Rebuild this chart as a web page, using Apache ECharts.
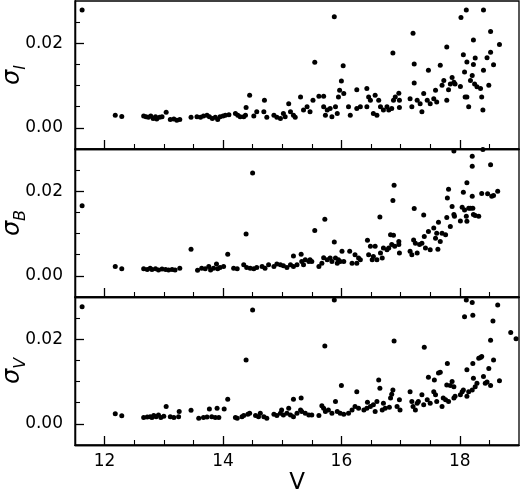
<!DOCTYPE html>
<html lang="en">
<head>
    <meta charset="UTF-8">
    <title>sigma vs V</title>
    <script src="https://cdn.jsdelivr.net/npm/echarts@6/dist/echarts.min.js"></script>
    <style>
        html, body { margin: 0; padding: 0; background: #fff; }
        #chart { width: 520px; height: 495px; }
    </style>
</head>
<body>
<div id="chart"></div>
<script type="text/javascript">
    // [V, sigma]
    var pointsI = [
        [11.62, 0.0279], [12.18, 0.0030], [12.29, 0.0027], [12.66, 0.0028], [12.70, 0.0026], [12.74, 0.0025],
        [12.78, 0.0028], [12.82, 0.0022], [12.86, 0.0026], [12.88, 0.0021], [12.93, 0.0025], [12.97, 0.0026],
        [13.04, 0.0037], [13.11, 0.0020], [13.17, 0.0021], [13.22, 0.0018], [13.27, 0.0020], [13.46, 0.0025],
        [13.56, 0.0026], [13.62, 0.0025], [13.67, 0.0028], [13.73, 0.0030], [13.77, 0.0026], [13.82, 0.0022],
        [13.87, 0.0025], [13.91, 0.0020], [13.95, 0.0026], [14.00, 0.0028], [14.04, 0.0030], [14.10, 0.0031],
        [14.21, 0.0034], [14.25, 0.0030], [14.29, 0.0026], [14.35, 0.0026], [14.38, 0.0030], [14.39, 0.0048],
        [14.45, 0.0077], [14.52, 0.0028], [14.57, 0.0038],
        [14.70, 0.0065], [14.69, 0.0038], [14.74, 0.0025], [14.86, 0.0030], [14.91, 0.0025], [14.97, 0.0022],
        [15.02, 0.0034], [15.05, 0.0026], [15.11, 0.0057], [15.14, 0.0038], [15.19, 0.0030], [15.22, 0.0025],
        [15.31, 0.0073], [15.36, 0.0042], [15.42, 0.0050], [15.47, 0.0038], [15.52, 0.0065], [15.55, 0.0155],
        [15.62, 0.0075], [15.70, 0.0075], [15.70, 0.0050], [15.73, 0.0030], [15.76, 0.0042], [15.81, 0.0046],
        [15.84, 0.0026], [15.88, 0.0263], [15.90, 0.0050], [15.93, 0.0034], [15.95, 0.0073], [15.97, 0.0089],
        [16.00, 0.0111], [16.03, 0.0147], [16.04, 0.0081], [16.12, 0.0050], [16.15, 0.0030], [16.26, 0.0046],
        [16.26, 0.0090], [16.32, 0.0050], [16.43, 0.0093], [16.43, 0.0050], [16.46, 0.0073], [16.49, 0.0065],
        [16.54, 0.0034], [16.57, 0.0077], [16.60, 0.0030], [16.63, 0.0065], [16.66, 0.0050], [16.71, 0.0042],
        [16.77, 0.0050], [16.80, 0.0042], [16.85, 0.0046], [16.87, 0.0177], [16.88, 0.0065], [16.91, 0.0073],
        [16.97, 0.0082], [16.98, 0.0065], [16.98, 0.0048], [17.16, 0.0069], [17.19, 0.0050], [17.21, 0.0224],
        [17.23, 0.0151], [17.23, 0.0106], [17.28, 0.0065], [17.33, 0.0057], [17.36, 0.0038], [17.39, 0.0081],
        [17.45, 0.0065], [17.47, 0.0136], [17.50, 0.0057], [17.56, 0.0069], [17.59, 0.0089], [17.61, 0.0061],
        [17.67, 0.0148], [17.70, 0.0101], [17.73, 0.0112], [17.78, 0.0191], [17.78, 0.0065], [17.81, 0.0090],
        [17.84, 0.0104], [17.87, 0.0119], [17.90, 0.0108], [17.92, 0.0104], [18.01, 0.0098], [18.02, 0.0261],
        [18.11, 0.0279], [18.06, 0.0173], [18.08, 0.0132], [18.12, 0.0156], [18.15, 0.0050], [18.09, 0.0073],
        [18.12, 0.0073], [18.18, 0.0112], [18.21, 0.0124], [18.23, 0.0208], [18.23, 0.0150], [18.26, 0.0165],
        [18.25, 0.0104], [18.29, 0.0097], [18.35, 0.0093], [18.37, 0.0073], [18.39, 0.0042], [18.40, 0.0279],
        [18.40, 0.0136], [18.46, 0.0166], [18.49, 0.0101], [18.52, 0.0228], [18.52, 0.0179], [18.57, 0.0149],
        [18.67, 0.0197]
    ];

    var pointsB = [
        [11.62, 0.0166], [12.18, 0.0022], [12.29, 0.0017], [12.66, 0.0017], [12.72, 0.0015], [12.77, 0.0018],
        [12.80, 0.0015], [12.86, 0.0017], [12.91, 0.0014], [12.97, 0.0016], [13.03, 0.0015], [13.08, 0.0014],
        [13.14, 0.0015], [13.19, 0.0014], [13.27, 0.0018], [13.46, 0.0063], [13.57, 0.0013], [13.64, 0.0018],
        [13.70, 0.0017], [13.76, 0.0022], [13.79, 0.0014], [13.84, 0.0018], [13.89, 0.0028], [13.91, 0.0017],
        [13.95, 0.0020], [14.01, 0.0022], [14.08, 0.0051], [14.18, 0.0018], [14.24, 0.0017], [14.35, 0.0026],
        [14.39, 0.0099], [14.40, 0.0020], [14.46, 0.0018], [14.50, 0.0243], [14.52, 0.0017], [14.57, 0.0020],
        [14.66, 0.0022], [14.71, 0.0018], [14.77, 0.0026], [14.86, 0.0022], [14.91, 0.0028], [14.97, 0.0026],
        [15.02, 0.0024], [15.08, 0.0020], [15.14, 0.0026], [15.19, 0.0022], [15.19, 0.0047], [15.25, 0.0026],
        [15.32, 0.0051], [15.33, 0.0034], [15.36, 0.0026], [15.39, 0.0038], [15.45, 0.0034], [15.47, 0.0038],
        [15.50, 0.0034], [15.55, 0.0107], [15.62, 0.0022], [15.67, 0.0030], [15.70, 0.0043], [15.72, 0.0134],
        [15.76, 0.0038], [15.81, 0.0042], [15.84, 0.0034], [15.88, 0.0080], [15.90, 0.0042], [15.93, 0.0030],
        [15.95, 0.0038], [15.98, 0.0034], [16.01, 0.0058], [16.04, 0.0034], [16.14, 0.0058], [16.18, 0.0030],
        [16.23, 0.0050], [16.26, 0.0030], [16.29, 0.0042], [16.32, 0.0038], [16.44, 0.0084], [16.46, 0.0050],
        [16.49, 0.0070], [16.52, 0.0038], [16.54, 0.0046], [16.57, 0.0070], [16.60, 0.0038], [16.65, 0.0139],
        [16.66, 0.0054], [16.69, 0.0042], [16.71, 0.0066], [16.77, 0.0062], [16.80, 0.0066], [16.83, 0.0097],
        [16.85, 0.0074], [16.87, 0.0178], [16.88, 0.0096], [16.89, 0.0214], [16.90, 0.0070], [16.97, 0.0081],
        [16.97, 0.0074], [16.98, 0.0054], [17.16, 0.0058], [17.19, 0.0050], [17.22, 0.0085], [17.23, 0.0159],
        [17.25, 0.0077], [17.28, 0.0054], [17.32, 0.0074], [17.36, 0.0077], [17.39, 0.0144], [17.40, 0.0093],
        [17.42, 0.0066], [17.47, 0.0105], [17.50, 0.0062], [17.56, 0.0113], [17.59, 0.0089], [17.61, 0.0101],
        [17.63, 0.0063], [17.64, 0.0127], [17.67, 0.0081], [17.70, 0.0101], [17.76, 0.0097], [17.78, 0.0138],
        [17.79, 0.0184], [17.81, 0.0205], [17.84, 0.0117], [17.87, 0.0164], [17.90, 0.0145], [17.91, 0.0141],
        [18.01, 0.0130], [18.04, 0.0162], [18.06, 0.0198], [18.08, 0.0156], [18.11, 0.0141], [18.12, 0.0220],
        [18.12, 0.0129], [18.15, 0.0160], [18.18, 0.0160], [18.21, 0.0188], [18.22, 0.0160], [18.23, 0.0145],
        [18.26, 0.0143], [18.32, 0.0141], [18.21, 0.0259], [18.21, 0.0283], [18.37, 0.0195], [18.47, 0.0194],
        [18.52, 0.0263], [18.54, 0.0188], [18.57, 0.0190], [18.64, 0.0200], [17.90, 0.0295], [18.39, 0.0299]
    ];

    var pointsV = [
        [11.62, 0.0277], [12.18, 0.0024], [12.29, 0.0019], [12.66, 0.0015], [12.72, 0.0016], [12.77, 0.0017],
        [12.80, 0.0015], [12.83, 0.0020], [12.87, 0.0017], [12.91, 0.0021], [12.95, 0.0015], [13.00, 0.0018],
        [13.04, 0.0041], [13.11, 0.0017], [13.17, 0.0015], [13.25, 0.0017], [13.26, 0.0029], [13.46, 0.0032],
        [13.59, 0.0013], [13.67, 0.0015], [13.73, 0.0016], [13.77, 0.0035], [13.81, 0.0017], [13.87, 0.0015],
        [13.90, 0.0037], [13.93, 0.0015], [14.02, 0.0035], [14.08, 0.0058], [14.21, 0.0015], [14.24, 0.0013],
        [14.32, 0.0017], [14.35, 0.0020], [14.39, 0.0151], [14.42, 0.0023], [14.45, 0.0025], [14.50, 0.0269],
        [14.55, 0.0020], [14.60, 0.0017],
        [14.63, 0.0025], [14.69, 0.0017], [14.74, 0.0013], [14.86, 0.0023], [14.91, 0.0020], [14.97, 0.0025],
        [14.99, 0.0033], [15.02, 0.0021], [15.08, 0.0025], [15.11, 0.0037], [15.14, 0.0021], [15.19, 0.0058],
        [15.19, 0.0017], [15.25, 0.0025], [15.31, 0.0033], [15.32, 0.0061], [15.33, 0.0029], [15.39, 0.0025],
        [15.45, 0.0021], [15.50, 0.0021], [15.62, 0.0020], [15.67, 0.0043], [15.70, 0.0037], [15.72, 0.0184],
        [15.73, 0.0029], [15.78, 0.0033], [15.84, 0.0025], [15.88, 0.0293], [15.90, 0.0053], [15.93, 0.0029],
        [15.98, 0.0025], [16.00, 0.0091], [16.04, 0.0023], [16.12, 0.0025], [16.18, 0.0033], [16.23, 0.0041],
        [16.26, 0.0076], [16.29, 0.0037], [16.38, 0.0033], [16.43, 0.0037], [16.44, 0.0051], [16.49, 0.0041],
        [16.54, 0.0045], [16.57, 0.0029], [16.60, 0.0053], [16.63, 0.0104], [16.65, 0.0084], [16.69, 0.0033],
        [16.71, 0.0049], [16.74, 0.0037], [16.81, 0.0039], [16.83, 0.0061], [16.85, 0.0070], [16.87, 0.0080],
        [16.89, 0.0196], [16.94, 0.0041], [16.98, 0.0057], [16.99, 0.0033], [17.16, 0.0076], [17.19, 0.0053],
        [17.21, 0.0041], [17.25, 0.0033], [17.28, 0.0049], [17.30, 0.0053], [17.36, 0.0069], [17.39, 0.0045],
        [17.40, 0.0181], [17.45, 0.0057], [17.47, 0.0110], [17.50, 0.0049], [17.56, 0.0076], [17.57, 0.0104],
        [17.59, 0.0069], [17.61, 0.0053], [17.64, 0.0120], [17.67, 0.0122], [17.70, 0.0041], [17.72, 0.0061],
        [17.76, 0.0057], [17.78, 0.0092], [17.79, 0.0143], [17.81, 0.0053], [17.84, 0.0091], [17.87, 0.0100],
        [17.90, 0.0061], [17.90, 0.0088], [17.92, 0.0065], [18.01, 0.0069], [18.04, 0.0076], [18.06, 0.0080],
        [18.08, 0.0253], [18.11, 0.0293], [18.12, 0.0128], [18.12, 0.0065], [18.15, 0.0076], [18.21, 0.0080],
        [18.21, 0.0287], [18.22, 0.0143], [18.22, 0.0257], [18.23, 0.0108], [18.26, 0.0088], [18.29, 0.0096],
        [18.32, 0.0155], [18.35, 0.0157], [18.37, 0.0159], [18.40, 0.0112], [18.43, 0.0096], [18.46, 0.0099],
        [18.49, 0.0131], [18.52, 0.0091], [18.52, 0.0198], [18.56, 0.0243], [18.57, 0.0151], [18.64, 0.0281],
        [18.67, 0.0102], [18.86, 0.0216], [18.95, 0.0201]
    ];

    var panelNames = ['I', 'B', 'V'];
    var xMajor = [12, 14, 16, 18];
    var xMinor = [12.5, 13, 13.5, 14.5, 15, 15.5, 16.5, 17, 17.5, 18.5];
    var yMajor = [0, 0.02];
    var yMinor = [0.005, 0.01, 0.015, 0.025];

    var chart = echarts.init(document.getElementById('chart'));
    var font = 'DejaVu Sans';
    var tops = [1, 149, 297];
    var allPoints = [pointsI, pointsB, pointsV];
    var black = { color: '#000', width: 1.3 };

    var grid = [], xAxis = [], yAxis = [], series = [];
    for (var i = 0; i < 3; i++) {
        grid.push({
            left: 75, right: 1, top: tops[i], height: 148, outerBoundsMode: 'none',
            show: true, borderColor: '#000', borderWidth: 1.3, backgroundColor: 'transparent'
        });
        var last = i === 2;
        // major x ticks (+ labels on the bottom panel)
        xAxis.push({
            gridIndex: i, type: 'value', min: 11.5, max: 19, position: 'bottom',
            axisLine: { show: true, onZero: false, lineStyle: black }, splitLine: { show: false },
            axisTick: { show: true, inside: true, length: 9, customValues: xMajor, lineStyle: { color: '#000', width: 1.3 } },
            axisLabel: {
                show: last, customValues: xMajor, margin: 8, color: '#000', fontSize: 17, fontFamily: font,
                formatter: function (v) { return String(v); }
            },
            name: last ? 'V' : '', nameLocation: 'middle', nameGap: 27, nameMoveOverlap: false,
            nameTextStyle: { color: '#000', fontSize: 23, fontFamily: font }
        });
        // minor x ticks
        xAxis.push({
            gridIndex: i, type: 'value', min: 11.5, max: 19, position: 'bottom',
            axisLine: { show: true, onZero: false, lineStyle: black }, splitLine: { show: false }, axisLabel: { show: false },
            axisTick: { show: true, inside: true, length: 5, customValues: xMinor, lineStyle: { color: '#000', width: 1.1 } }
        });
        yAxis.push({
            gridIndex: i, type: 'value', min: -0.005, max: 0.03, position: 'left',
            axisLine: { show: true, onZero: false, lineStyle: black }, splitLine: { show: false },
            axisTick: { show: true, inside: true, length: 9, customValues: yMajor, lineStyle: { color: '#000', width: 1.3 } },
            axisLabel: {
                customValues: yMajor, margin: 12, color: '#000', fontSize: 17, fontFamily: font,
                formatter: function (v) { return v.toFixed(2); }
            },
            name: '{s|σ}{sub|' + panelNames[i] + '}', nameLocation: 'middle', nameGap: 50, nameMoveOverlap: false,
            nameTextStyle: {
                rich: {
                    s: { fontSize: 24, fontStyle: 'italic', fontFamily: font, color: '#000', lineHeight: 30, verticalAlign: 'bottom' },
                    sub: { fontSize: 16, fontStyle: 'italic', fontFamily: font, color: '#000', lineHeight: 30, verticalAlign: 'bottom', padding: [0, 0, -4, 0] }
                }
            }
        });
        // minor y ticks
        yAxis.push({
            gridIndex: i, type: 'value', min: -0.005, max: 0.03, position: 'left',
            axisLine: { show: true, onZero: false, lineStyle: black }, splitLine: { show: false }, axisLabel: { show: false },
            axisTick: { show: true, inside: true, length: 5, customValues: yMinor, lineStyle: { color: '#000', width: 1.1 } }
        });
        series.push({
            type: 'scatter', xAxisIndex: 2 * i, yAxisIndex: 2 * i,
            symbol: 'circle', symbolSize: 5,
            itemStyle: { color: '#000', opacity: 1 },
            data: allPoints[i]
        });
    }

    chart.setOption({
        animation: false,
        backgroundColor: '#fff',
        grid: grid,
        xAxis: xAxis,
        yAxis: yAxis,
        series: series
    });
</script>
</body>
</html>
